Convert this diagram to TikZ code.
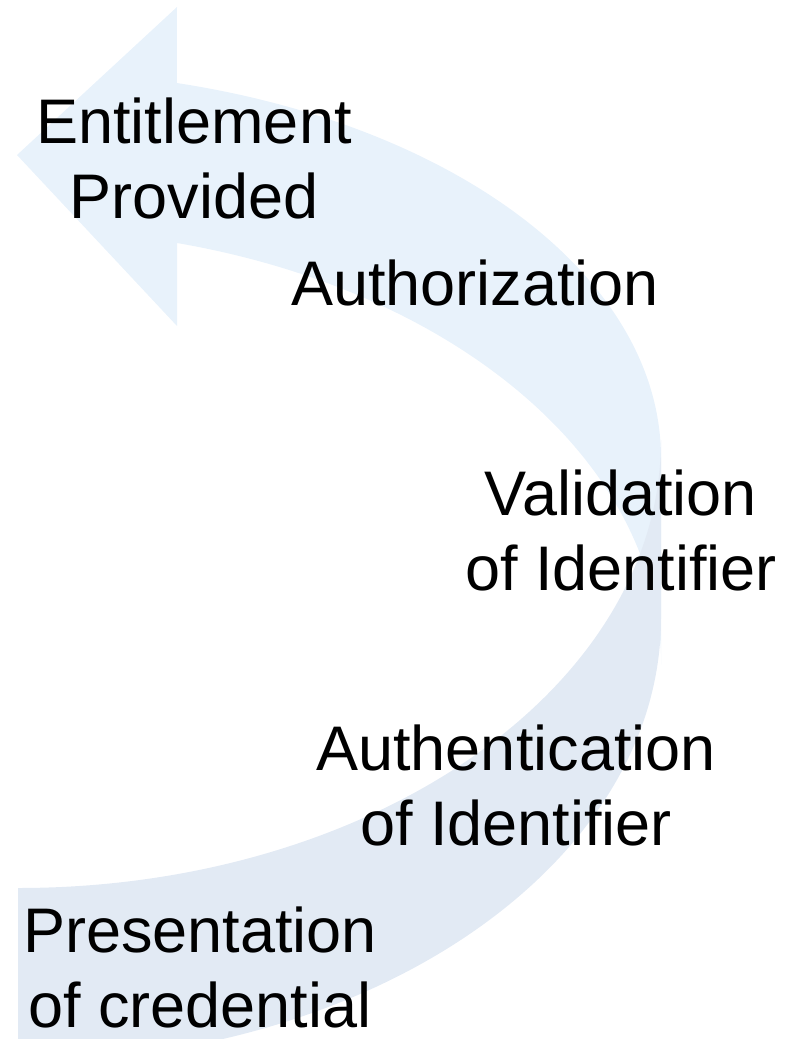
\documentclass[tikz,border=0pt]{standalone}
\usepackage{fontspec}
\setmainfont{Liberation Sans}
\tikzset{every picture/.style={line width=0.75pt}}
\definecolor{headblue}{RGB}{232,242,251}
\definecolor{tailblue}{RGB}{226,234,244}
\tikzset{stage/.style={anchor=base, inner sep=0pt, align=center, font=\fontsize{47.25}{56.25}\selectfont}}

\begin{document}
\begin{tikzpicture}[x=0.75pt,y=0.75pt,yscale=-1,xscale=1]
%set diagram left start at 0, and has height of 1039
\useasboundingbox (0,0) rectangle (793,1039);
\clip (0,0) rectangle (793,1039);

%Shape: Curved Arrow [head band]
\fill [headblue] (177,7) -- (17,155) -- (177,326) -- (177,243) arc [start angle=-75.7, end angle=0, x radius=643, y radius=435] -- (661,458) arc [start angle=0, end angle=-75.7, x radius=643, y radius=387] -- cycle ;
%Shape: Curved Arrow [tail band]
\fill [tailblue] (18,888) arc [start angle=90, end angle=0, x radius=643, y radius=448] -- (661,618) arc [start angle=0, end angle=90, x radius=643, y radius=444] -- cycle ;

% Text Node
\node [stage] (entitled) at (194,218) {Entitlement\\Provided};
% Text Node
\node [stage] (authz) at (475,305) {Authorization};
% Text Node
\node [stage] (validation) at (621,590) {Validation\\of Identifier};
% Text Node
\node [stage] (authn) at (516,845) {Authentication\\of Identifier};
% Text Node
\node [stage] (presentation) at (200,1027) {Presentation\\of credential};

\end{tikzpicture}
\end{document}
